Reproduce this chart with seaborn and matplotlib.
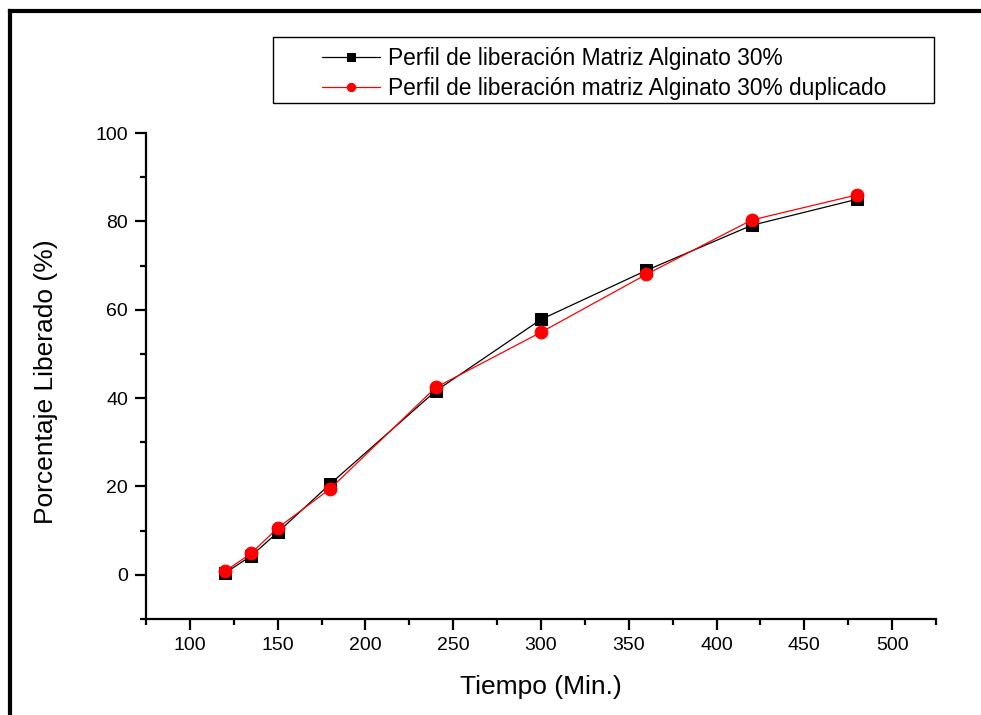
import matplotlib
matplotlib.use("Agg")
import matplotlib.pyplot as plt
from matplotlib.lines import Line2D
from matplotlib.patches import Rectangle
from matplotlib.ticker import MultipleLocator
import seaborn as sns
import pandas as pd

# ---- data ----
tiempo = [120, 135, 150, 180, 240, 300, 360, 420, 480]
matriz = [0.4, 4.3, 9.6, 20.6, 41.6, 57.8, 68.9, 79.1, 85.0]
duplicado = [0.8, 4.9, 10.6, 19.5, 42.4, 54.9, 68.0, 80.3, 86.0]
label_1 = "Perfil de liberación Matriz Alginato 30%"
label_2 = "Perfil de liberación matriz Alginato 30% duplicado"
x_ticks = [100, 150, 200, 250, 300, 350, 400, 450, 500]
y_ticks = [0, 20, 40, 60, 80, 100]

sns.set_theme(style="ticks")
plt.rcParams["font.family"] = ["Liberation Sans", "DejaVu Sans"]

W, H = 981, 715
fig = plt.figure(figsize=(W / 100, H / 100), dpi=100)
ax = fig.add_axes([146 / W, (H - 619) / H, (936 - 146) / W, (619 - 133) / H])

df1 = pd.DataFrame({"t": tiempo, "v": matriz})
df2 = pd.DataFrame({"t": tiempo, "v": duplicado})

sns.lineplot(data=df1, x="t", y="v", ax=ax, color="black", linewidth=0.9,
             marker="s", markersize=8.2, markeredgecolor="black",
             markerfacecolor="black", label=label_1, zorder=3)
sns.lineplot(data=df2, x="t", y="v", ax=ax, color="#ff0000", linewidth=0.9,
             marker="o", markersize=9.2, markeredgecolor="#ff0000",
             markerfacecolor="#ff0000", label=label_2, zorder=4)

ax.set_xlim(75, 525)
ax.set_ylim(-10, 100)
ax.set_xticks(x_ticks)
ax.set_yticks(y_ticks)
ax.xaxis.set_minor_locator(MultipleLocator(25))
ax.yaxis.set_minor_locator(MultipleLocator(10))

for s in ["top", "right"]:
    ax.spines[s].set_visible(False)
for s in ["left", "bottom"]:
    ax.spines[s].set_linewidth(1.6)
    ax.spines[s].set_color("black")

ax.tick_params(which="major", direction="out", length=8, width=1.6,
               labelsize=14, colors="black", pad=5)
ax.tick_params(which="minor", direction="out", length=4.5, width=1.6,
               colors="black")

ax.set_xlabel("Tiempo (Min.)", fontsize=19, color="black", labelpad=15)
ax.set_ylabel("Porcentaje Liberado (%)", fontsize=19, color="black")
ax.yaxis.set_label_coords((58 - 146) / (936 - 146), (715 - 382 - 96) / (619 - 133))

# legend
leg = ax.legend(loc="upper left", bbox_to_anchor=(314 / W, 1 - 39 / H),
                bbox_transform=fig.transFigure, frameon=False, fontsize=16.4,
                handlelength=2.55, handletextpad=0.35, labelspacing=0.32,
                borderpad=0.35, borderaxespad=0, markerscale=0.65)
for t in leg.get_texts():
    t.set_color("black")

fig.add_artist(Rectangle((273 / W, 1 - 103 / H), (934 - 273) / W, (103 - 37) / H,
                         transform=fig.transFigure, fill=False,
                         edgecolor="black", linewidth=1.0))

# outer frame (top and left)
fig.add_artist(Line2D([10 / W, 10 / W], [0, 1 - 11 / H], transform=fig.transFigure,
                      color="black", linewidth=3, solid_capstyle="projecting"))
fig.add_artist(Line2D([10 / W, 1], [1 - 11 / H, 1 - 11 / H], transform=fig.transFigure,
                      color="black", linewidth=3, solid_capstyle="projecting"))

fig.savefig("out.png", dpi=100, facecolor="white")
